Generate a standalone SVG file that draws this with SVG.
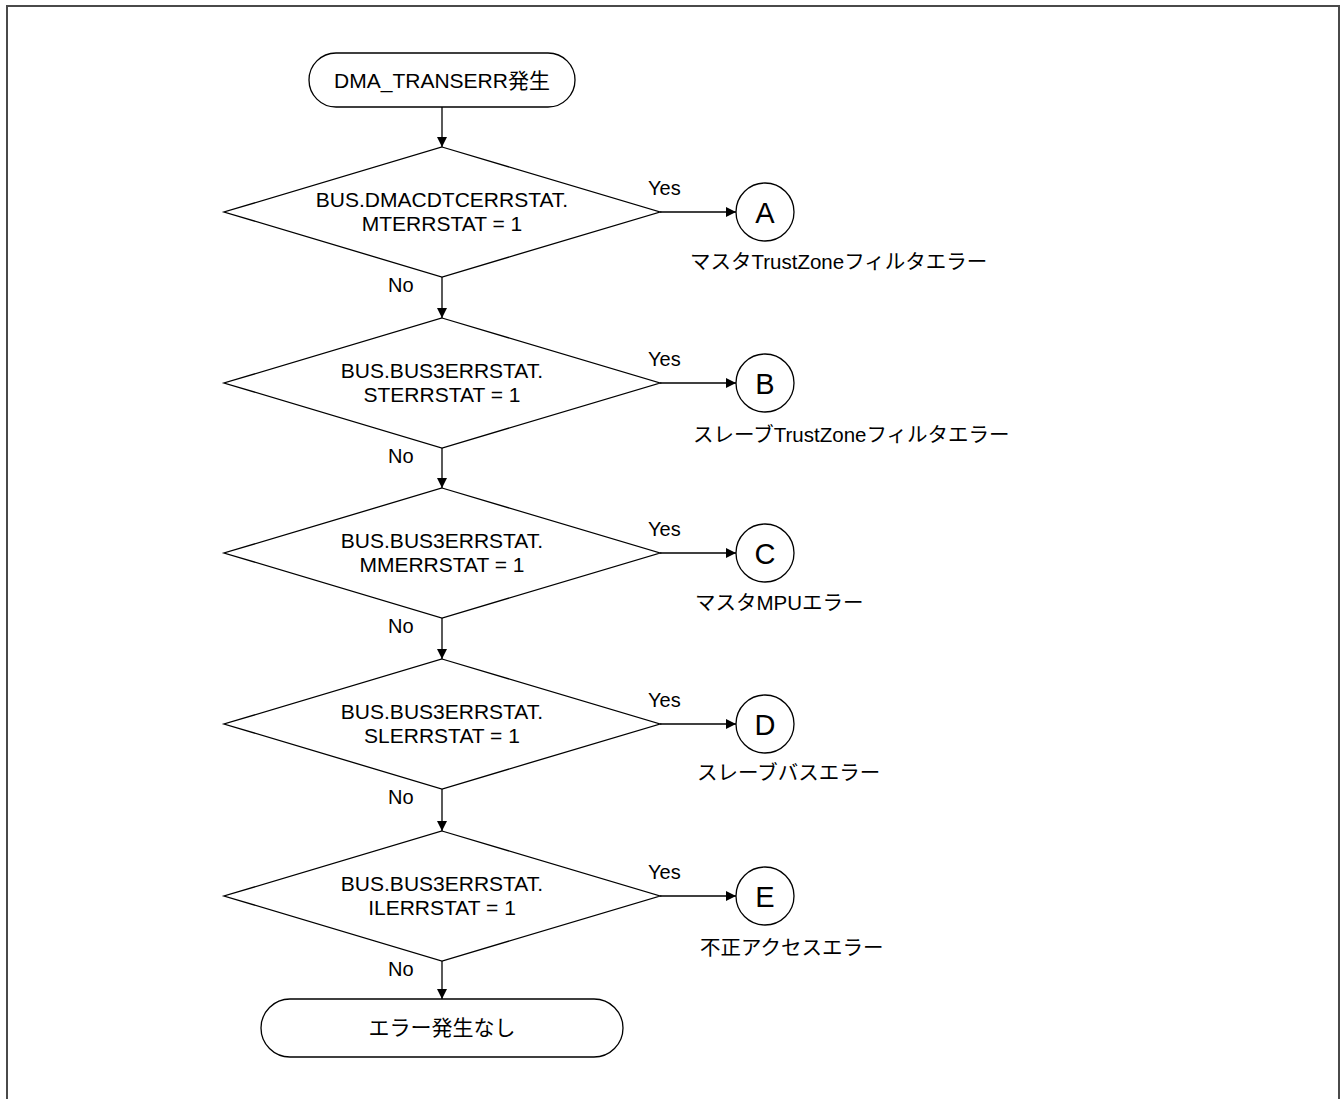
<svg xmlns="http://www.w3.org/2000/svg" width="1343" height="1099" viewBox="0 0 1343 1099">
<defs>
<marker id="arr" viewBox="0 0 10 10" refX="10" refY="5" markerWidth="10" markerHeight="10" markerUnits="userSpaceOnUse" orient="auto">
<path d="M0,0 L10,5 L0,10 z" fill="#000"/>
</marker>
<style>
.shape{fill:#fff;stroke:#000;stroke-width:1.3}
.t{font-family:"Liberation Sans","Noto Sans CJK JP",sans-serif;font-size:21px;fill:#000}
.c{text-anchor:middle}
.s{font-size:20px}
.l{font-size:20.5px}
.big{font-size:29px}
.edge{stroke:#000;stroke-width:1.3;fill:none;marker-end:url(#arr)}
</style>
</defs>
<rect x="7" y="6" width="1332" height="1110" fill="#fff" stroke="#4a4a4a" stroke-width="2"/>
<g id="connectors">
<line class="edge" x1="442" y1="107" x2="442" y2="147"/>
<line class="edge" x1="442" y1="277" x2="442" y2="318"/>
<line class="edge" x1="442" y1="448" x2="442" y2="488"/>
<line class="edge" x1="442" y1="618" x2="442" y2="659"/>
<line class="edge" x1="442" y1="789" x2="442" y2="831"/>
<line class="edge" x1="442" y1="961" x2="442" y2="999"/>
<line class="edge" x1="660" y1="212" x2="736" y2="212"/>
<line class="edge" x1="660" y1="383" x2="736" y2="383"/>
<line class="edge" x1="660" y1="553" x2="736" y2="553"/>
<line class="edge" x1="660" y1="724" x2="736" y2="724"/>
<line class="edge" x1="660" y1="896" x2="736" y2="896"/>
<text class="t s" x="648" y="195">Yes</text>
<text class="t s" x="648" y="366">Yes</text>
<text class="t s" x="648" y="536">Yes</text>
<text class="t s" x="648" y="707">Yes</text>
<text class="t s" x="648" y="879">Yes</text>
<text class="t s" x="388" y="292">No</text>
<text class="t s" x="388" y="463">No</text>
<text class="t s" x="388" y="633">No</text>
<text class="t s" x="388" y="804">No</text>
<text class="t s" x="388" y="976">No</text>
</g>
<g id="start">
<rect class="shape" x="309" y="53" width="266" height="54" rx="27"/>
<text class="t c" x="442" y="88">DMA_TRANSERR発生</text>
</g>
<g id="d1">
<polygon class="shape" points="442,147 660,212 442,277 224,212"/>
<text class="t c" x="442" y="207">BUS.DMACDTCERRSTAT.</text>
<text class="t c" x="442" y="231">MTERRSTAT = 1</text>
</g>
<g id="d2">
<polygon class="shape" points="442,318 660,383 442,448 224,383"/>
<text class="t c" x="442" y="378">BUS.BUS3ERRSTAT.</text>
<text class="t c" x="442" y="402">STERRSTAT = 1</text>
</g>
<g id="d3">
<polygon class="shape" points="442,488 660,553 442,618 224,553"/>
<text class="t c" x="442" y="548">BUS.BUS3ERRSTAT.</text>
<text class="t c" x="442" y="572">MMERRSTAT = 1</text>
</g>
<g id="d4">
<polygon class="shape" points="442,659 660,724 442,789 224,724"/>
<text class="t c" x="442" y="719">BUS.BUS3ERRSTAT.</text>
<text class="t c" x="442" y="743">SLERRSTAT = 1</text>
</g>
<g id="d5">
<polygon class="shape" points="442,831 660,896 442,961 224,896"/>
<text class="t c" x="442" y="891">BUS.BUS3ERRSTAT.</text>
<text class="t c" x="442" y="915">ILERRSTAT = 1</text>
</g>
<g id="cA">
<circle class="shape" cx="765" cy="212" r="29"/>
<text class="t c big" x="765" y="223">A</text>
<text class="t l" x="690" y="269">マスタTrustZoneフィルタエラー</text>
</g>
<g id="cB">
<circle class="shape" cx="765" cy="383" r="29"/>
<text class="t c big" x="765" y="394">B</text>
<text class="t l" x="693" y="442">スレーブTrustZoneフィルタエラー</text>
</g>
<g id="cC">
<circle class="shape" cx="765" cy="553" r="29"/>
<text class="t c big" x="765" y="564">C</text>
<text class="t l" x="695" y="610">マスタMPUエラー</text>
</g>
<g id="cD">
<circle class="shape" cx="765" cy="724" r="29"/>
<text class="t c big" x="765" y="735">D</text>
<text class="t l" x="697" y="780">スレーブバスエラー</text>
</g>
<g id="cE">
<circle class="shape" cx="765" cy="896" r="29"/>
<text class="t c big" x="765" y="907">E</text>
<text class="t l" x="700" y="955">不正アクセスエラー</text>
</g>
<g id="end">
<rect class="shape" x="261" y="999" width="362" height="58" rx="29"/>
<text class="t c" x="442" y="1035">エラー発生なし</text>
</g>
</svg>
